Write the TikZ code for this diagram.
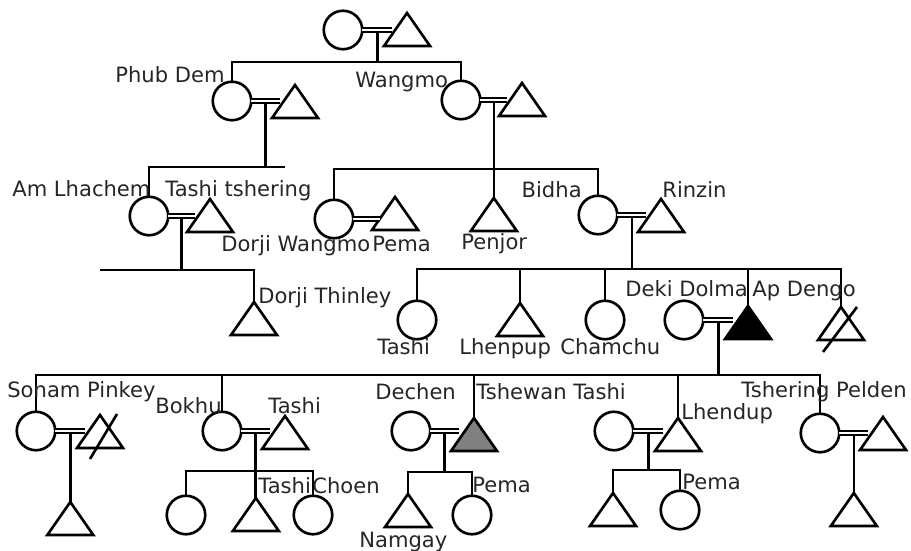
\documentclass[tikz,border=0pt]{standalone}
\usepackage{fontspec}
\setmainfont{DejaVu Sans}
\usetikzlibrary{calc}
\usetikzlibrary{shapes.geometric}

\begin{document}
\begin{tikzpicture}[x=0.02cm,y=-0.02cm,
	female/.style={circle,draw,line width=1.5pt,minimum size=0.77cm,inner sep=0,outer sep=0},
	male/.style={isosceles triangle,isosceles triangle stretches=true,shape border rotate=90,draw,line width=1.5pt,
		minimum width=0.92cm,minimum height=0.66cm,inner sep=0,outer sep=0,anchor=apex},
	marriage/.style={double,line width=1.1pt,double distance=1.6pt},
	line/.style={line width=1.5pt},
	lbl/.style={font=\fontsize{12}{14}\selectfont,text=black!85,inner sep=0,anchor=base west}]
	\useasboundingbox (0,0) rectangle (911,550);

	% couples
	\node[female] (g1f) at (343,30) {};
	\node[male] (g1m) at (407,13) {};
	\node[female] (pd) at (232,101) {};
	\node[male] (pdm) at (295,85) {};
	\node[female] (wm) at (461,100) {};
	\node[male] (wmm) at (522,83) {};
	\node[female] (al) at (149,216) {};
	\node[male] (alm) at (210,199) {};
	\node[female] (dw) at (334,219) {};
	\node[male] (dwm) at (395,197) {};
	\node[female] (bd) at (598,215) {};
	\node[male] (rz) at (661,199) {};
	\node[female] (dd) at (684,320) {};
	\node[male,fill=black] (ad) at (748,306) {};
	\node[female] (sp) at (36,431) {};
	\node[male] (spm) at (100,415) {};
	\node[female] (bk) at (222,431) {};
	\node[male] (bkm) at (285,416) {};
	\node[female] (dc) at (411,431) {};
	\node[male,fill=black!50] (tt) at (474,418) {};
	\node[female] (lf) at (614,431) {};
	\node[male] (ld) at (678,418) {};
	\node[female] (tp) at (820,433) {};
	\node[male] (tpm) at (883,417) {};

	\foreach \fem/\mal/\cpl in {g1f/g1m/c1,pd/pdm/c2,wm/wmm/c3,al/alm/c4,dw/dwm/c5,bd/rz/c6,
		dd/ad/c7,sp/spm/c8,bk/bkm/c9,dc/tt/c10,lf/ld/c11,tp/tpm/c12}
		\coordinate (\cpl) at ($(\fem.east)!.5!(\fem.east -| \mal.west)$);

	% children
	\node[male] (dt) at (254,302) {};
	\node[male] (pj) at (c3 |- 0,198) {};
	\node[female] (t3) at (417,320) {};
	\node[male] (lp) at (520,303) {};
	\node[female] (cc) at (605,320) {};
	\node[male] (x3) at (841,307) {};
	\node[male] (sp1) at (c8 |- 0,502) {};
	\node[female] (bk1) at (186,515) {};
	\node[male] (bk2) at (c9 |- 0,498) {};
	\node[female] (bk3) at (313,515) {};
	\node[male] (ng) at (408,494) {};
	\node[female] (pm1) at (472,515) {};
	\node[male] (ld1) at (613,493) {};
	\node[female] (ld2) at (680,510) {};
	\node[male] (tp1) at (c12 |- 0,493) {};

	% lines of descent
	\coordinate (s1) at (c1 |- 0,62);
	\draw[line] (c1) -- (s1);
	\draw[line] (pd.north) |- (s1) -| (wm.north);
	\coordinate (s2) at (c2 |- 0,167);
	\coordinate (s2e) at (285,167);
	\draw[line] (c2) -- (s2);
	\draw[line] (al.north) |- (s2e);
	\coordinate (s3) at (c4 |- 0,270);
	\coordinate (s3w) at (100,270);
	\draw[line] (c4) -- (s3);
	\draw[line] (s3w) -| (dt.apex);
	\coordinate (s4) at (c3 |- 0,169);
	\draw[line] (c3) -- (pj.apex);
	\draw[line] (dw.north) |- (s4) -| (bd.north);
	\coordinate (s5) at (c6 |- 0,269);
	\draw[line] (c6) -- (s5);
	\draw[line] (t3.north) |- (s5) -| (x3.apex);
	\draw[line] (lp.apex |- s5) -- (lp.apex);
	\draw[line] (cc.north |- s5) -- (cc.north);
	\draw[line] (ad.apex |- s5) -- (ad.apex);
	\coordinate (s6) at (c7 |- 0,375);
	\draw[line] (c7) -- (s6);
	\draw[line] (sp.north) |- (s6) -| (tp.north);
	\draw[line] (bk.north |- s6) -- (bk.north);
	\draw[line] (tt.apex |- s6) -- (tt.apex);
	\draw[line] (ld.apex |- s6) -- (ld.apex);
	\draw[line] (c8) -- (sp1.apex);
	\coordinate (s8) at (c9 |- 0,471);
	\draw[line] (c9) -- (bk2.apex);
	\draw[line] (bk1.north) |- (s8) -| (bk3.north);
	\coordinate (s9) at (c10 |- 0,472);
	\draw[line] (c10) -- (s9);
	\draw[line] (ng.apex) |- (s9) -| (pm1.north);
	\coordinate (s10) at (c11 |- 0,470);
	\draw[line] (c11) -- (s10);
	\draw[line] (ld1.apex) |- (s10) -| (ld2.north);
	\draw[line] (c12) -- (tp1.apex);

	% deceased
	\draw[line] ($(spm.apex)+(-10,44)$) -- ($(spm.apex)+(17,-1)$);
	\draw[line] ($(x3.apex)+(-18,45)$) -- ($(x3.apex)+(16,0)$);

	\foreach \fem/\mal in {g1f/g1m,pd/pdm,wm/wmm,al/alm,dw/dwm,bd/rz,dd/ad,sp/spm,bk/bkm,dc/tt,lf/ld,tp/tpm}
		\draw[marriage] (\fem.east) -- (\fem.east -| \mal.west);

	% names
	\node[lbl] (n1) at (115,83) {Phub Dem};
	\node[lbl] (n2) at (355,88) {Wangmo};
	\node[lbl] (n3) at (12,197) {Am Lhachem};
	\node[lbl] (n4) at (165,197) {Tashi tshering};
	\node[lbl] (n5) at (221,252) {Dorji Wangmo};
	\node[lbl] (n6) at (372,252) {Pema};
	\node[lbl] (n7) at (461,250) {Penjor};
	\node[lbl,anchor=base east] (n8) at (582,198) {Bidha};
	\node[lbl] (n9) at (662,198) {Rinzin};
	\node[lbl] (n10) at (258,303) {Dorji Thinley};
	\node[lbl] (n11) at (377,354) {Tashi};
	\node[lbl] (n12) at (459,354) {Lhenpup};
	\node[lbl] (n13) at (560,354) {Chamchu};
	\node[lbl] (n14) at (625,296) {Deki Dolma};
	\node[lbl] (n15) at (752,296) {Ap Dengo};
	\node[lbl] (n16) at (7,397) {Sonam Pinkey};
	\node[lbl,anchor=base east] (n17) at (222,413) {Bokhu};
	\node[lbl] (n18) at (268,413) {Tashi};
	\node[lbl] (n19) at (375,399) {Dechen};
	\node[lbl] (n20) at (476,399) {Tshewan Tashi};
	\node[lbl] (n21) at (681,419) {Lhendup};
	\node[lbl,anchor=base east] (n22) at (907,397) {Tshering Pelden};
	\node[lbl] (n23) at (258,493) {Tashi};
	\node[lbl,anchor=base east] (n24) at (380,493) {Choen};
	\node[lbl] (n25) at (472,492) {Pema};
	\node[lbl] (n26) at (359,547) {Namgay};
	\node[lbl] (n27) at (682,489) {Pema};
\end{tikzpicture}
\end{document}
